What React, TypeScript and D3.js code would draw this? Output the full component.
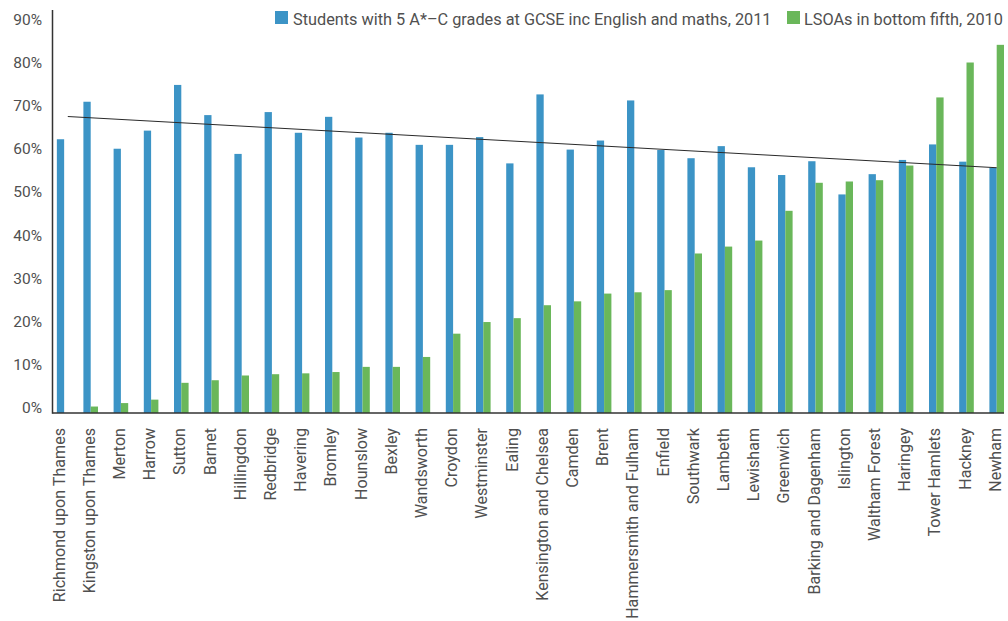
import React from "react";
import * as d3 from "d3";

const boroughs = [
  "Richmond upon Thames", "Kingston upon Thames", "Merton", "Harrow", "Sutton", "Barnet",
  "Hillingdon", "Redbridge", "Havering", "Bromley", "Hounslow", "Bexley", "Wandsworth",
  "Croydon", "Westminster", "Ealing", "Kensington and Chelsea", "Camden", "Brent",
  "Hammersmith and Fulham", "Enfield", "Southwark", "Lambeth", "Lewisham", "Greenwich",
  "Barking and Dagenham", "Islington", "Waltham Forest", "Haringey", "Tower Hamlets",
  "Hackney", "Newham",
];

const gcse2011 = [
  63.5, 72.2, 61.3, 65.5, 76.1, 69.1, 60.1, 69.8, 65.0, 68.7, 63.9, 65.0, 62.2, 62.2, 64.0,
  57.9, 73.9, 61.1, 63.2, 72.5, 61.0, 59.1, 61.9, 57.0, 55.2, 58.4, 50.7, 55.4, 58.7, 62.3,
  58.3, 56.9,
];

const lsoaBottomFifth2010: (number | null)[] = [
  null, 1.5, 2.3, 3.1, 7.0, 7.6, 8.7, 9.0, 9.2, 9.5, 10.7, 10.7, 13.0, 18.4, 21.1, 22.0,
  25.0, 25.9, 27.7, 28.0, 28.5, 37.0, 38.6, 40.0, 46.9, 53.4, 53.7, 54.0, 57.4, 73.2, 81.3,
  85.4,
];

const yTicks = [0, 10, 20, 30, 40, 50, 60, 70, 80, 90];

const seriesNames = [
  "Students with 5 A*\u2013C grades at GCSE inc English and maths, 2011",
  "LSOAs in bottom fifth, 2010",
];

const BLUE = "#3c94c6";
const GREEN = "#6ab75a";
const TEXT = "#505050";
const AXIS = "#333333";
const FONT = "Roboto, 'Open Sans', sans-serif";

export default function App() {
  const W = 1008;
  const H = 621;
  const axisX = 52.5;
  const x = d3
    .scaleBand<string>()
    .domain(boroughs)
    .range([45.4, 1011.8])
    .paddingInner(0)
    .paddingOuter(0);
  const y = d3.scaleLinear().domain([0, 90]).range([413, 25]);
  const bw = 7.3;
  const center = (name: string) => (x(name) as number) + x.bandwidth() / 2;

  // linear regression of the GCSE series over category index
  const n = gcse2011.length;
  const idx = d3.range(n);
  const mx = d3.mean(idx) as number;
  const my = d3.mean(gcse2011) as number;
  const slope =
    d3.sum(idx, (i) => (i - mx) * (gcse2011[i] - my)) / d3.sum(idx, (i) => (i - mx) * (i - mx));
  const intercept = my - slope * mx;
  const step = x.step();
  const c0 = center(boroughs[0]);
  const tStart = bw / step;
  const tEnd = n - 1;
  const trendX1 = c0 + tStart * step;
  const trendX2 = c0 + tEnd * step;
  const trendY1 = y(intercept + slope * tStart);
  const trendY2 = y(intercept + slope * tEnd);

  const lastName = boroughs[n - 1];
  const baselineEnd = center(lastName) + bw;

  return (
    <svg
      width={W}
      height={H}
      style={{ position: "absolute", left: 0, top: 0, background: "#fff" }}
      fontFamily={FONT}
    >
      {/* y tick labels */}
      {yTicks.map((t) => (
        <text key={t} x={42} y={y(t)} textAnchor="end" fontSize={15.5} fill={TEXT}>
          {t}%
        </text>
      ))}

      {/* bars */}
      {boroughs.map((b, i) => {
        const c = center(b);
        const g = lsoaBottomFifth2010[i];
        const blueX = g == null ? c - bw / 2 : c - bw;
        return (
          <g key={b}>
            <rect
              x={blueX}
              y={y(gcse2011[i])}
              width={bw}
              height={y(0) - y(gcse2011[i])}
              fill={BLUE}
            />
            {g != null && (
              <rect x={c} y={y(g)} width={bw} height={y(0) - y(g)} fill={GREEN} />
            )}
          </g>
        );
      })}

      {/* trend line */}
      <line x1={trendX1} y1={trendY1} x2={trendX2} y2={trendY2} stroke="#2a2a2a" strokeWidth={1} />

      {/* axes */}
      <line x1={axisX} y1={10} x2={axisX} y2={y(0) + 0.75} stroke={AXIS} strokeWidth={1.5} />
      <line x1={axisX} y1={y(0)} x2={baselineEnd} y2={y(0)} stroke={AXIS} strokeWidth={1.5} />

      {/* x labels */}
      {boroughs.map((b) => {
        const c = center(b) - 1.5;
        return (
          <text
            key={b}
            transform={`translate(${c},428) rotate(-90)`}
            textAnchor="end"
            dy="0.35em"
            fontSize={16.1}
            fill={TEXT}
          >
            {b}
          </text>
        );
      })}

      {/* legend */}
      <rect x={275} y={11} width={13} height={13} fill={BLUE} />
      <text x={293} y={25} fontSize={16.3} fill={TEXT}>
        {seriesNames[0]}
      </text>
      <rect x={787} y={11} width={13} height={13} fill={GREEN} />
      <text x={804} y={25} fontSize={16.3} fill={TEXT}>
        {seriesNames[1]}
      </text>
    </svg>
  );
}
